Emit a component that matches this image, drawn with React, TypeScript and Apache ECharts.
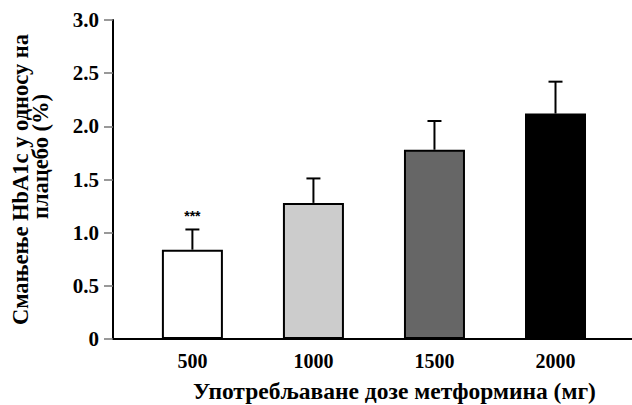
import React, { useEffect, useRef } from "react";
import * as echarts from "echarts";

const doses = [500, 1000, 1500, 2000];
const reductions = [0.84, 1.28, 1.78, 2.12];
const upperErrors = [1.03, 1.51, 2.05, 2.42];
const significance = ["***", "", "", ""];
const barColors = ["#ffffff", "#cccccc", "#666666", "#000000"];
const yTitle = "Смањење HbA1c у односу на";
const yTitle2 = "плацебо (%)";
const xTitle = "Употребљаване дозе метформина (мг)";

const serif = "Liberation Serif";

export default function App() {
  const ref = useRef<HTMLDivElement>(null);
  useEffect(() => {
    if (!ref.current) return;
    const chart = echarts.init(ref.current, null, { renderer: "svg" });
    chart.setOption({
      animation: false,
      backgroundColor: "#ffffff",
      grid: {
        left: 113,
        right: 0,
        top: 20,
        bottom: 66,
        containLabel: false,
        outerBoundsMode: "none",
      },
      xAxis: {
        type: "value",
        min: 172,
        max: 2316,
        splitLine: { show: false },
        axisLine: { show: true, onZero: false, lineStyle: { color: "#000", width: 2 } },
        axisTick: { show: false },
        axisLabel: {
          customValues: doses,
          margin: 12,
          fontFamily: serif,
          fontWeight: "bold",
          fontSize: 20,
          color: "#000",
          formatter: (v: number) => String(v),
        },
        name: xTitle,
        nameLocation: "middle",
        nameGap: 40,
        nameTextStyle: {
          fontFamily: serif,
          fontWeight: "bold",
          fontSize: 23.5,
          color: "#000",
          padding: [0, 0, 0, 44],
        },
      },
      yAxis: {
        type: "value",
        min: 0,
        max: 3,
        interval: 0.5,
        splitLine: { show: false },
        axisLine: { show: true, lineStyle: { color: "#000", width: 2 } },
        axisTick: { show: true, length: 9, lineStyle: { color: "#777", width: 1.5 } },
        axisLabel: {
          margin: 14,
          fontFamily: serif,
          fontWeight: "bold",
          fontSize: 21,
          color: "#000",
          formatter: (v: number) => (v === 0 ? "0" : v.toFixed(1)),
        },
        name: "{a|" + yTitle + "}\n{b|" + yTitle2 + "}",
        nameLocation: "middle",
        nameGap: 63,
        nameTextStyle: {
          fontFamily: serif,
          fontWeight: "bold",
          fontSize: 22.5,
          lineHeight: 20,
          color: "#000",
          rich: {
            a: { fontFamily: serif, fontWeight: "bold", fontSize: 22.5, lineHeight: 20, color: "#000" },
            b: {
              fontFamily: serif,
              fontWeight: "bold",
              fontSize: 22.5,
              lineHeight: 20,
              color: "#000",
              padding: [0, 0, 0, 46],
            },
          },
        },
      },
      series: [
        {
          type: "bar",
          barWidth: 61,
          data: doses.map((d, i) => ({
            value: [d, reductions[i]],
            itemStyle: { color: barColors[i], borderColor: "#000", borderWidth: 2 },
          })),
        },
        {
          type: "custom",
          data: doses.map((d, i) => [d, reductions[i], upperErrors[i], i]),
          renderItem: (params: any, api: any) => {
            const x = api.value(0);
            const base = api.coord([x, api.value(1)]);
            const top = api.coord([x, api.value(2)]);
            const idx = api.value(3);
            const children: any[] = [
              {
                type: "line",
                shape: { x1: base[0], y1: base[1], x2: top[0], y2: top[1] },
                style: { stroke: "#000", lineWidth: 2 },
              },
              {
                type: "line",
                shape: { x1: top[0] - 7, y1: top[1], x2: top[0] + 7, y2: top[1] },
                style: { stroke: "#000", lineWidth: 2 },
              },
            ];
            const sig = significance[idx];
            if (sig) {
              children.push({
                type: "text",
                x: top[0],
                y: top[1] - 13,
                style: {
                  text: sig,
                  font: "bold 14px 'Liberation Sans', Arial, sans-serif",
                  fill: "#000",
                  align: "center",
                  verticalAlign: "middle",
                },
              });
            }
            return { type: "group", children };
          },
          z: 3,
        },
      ],
    });
    return () => chart.dispose();
  }, []);
  return <div ref={ref} style={{ width: 632, height: 405, position: "absolute", left: 0, top: 0 }} />;
}
